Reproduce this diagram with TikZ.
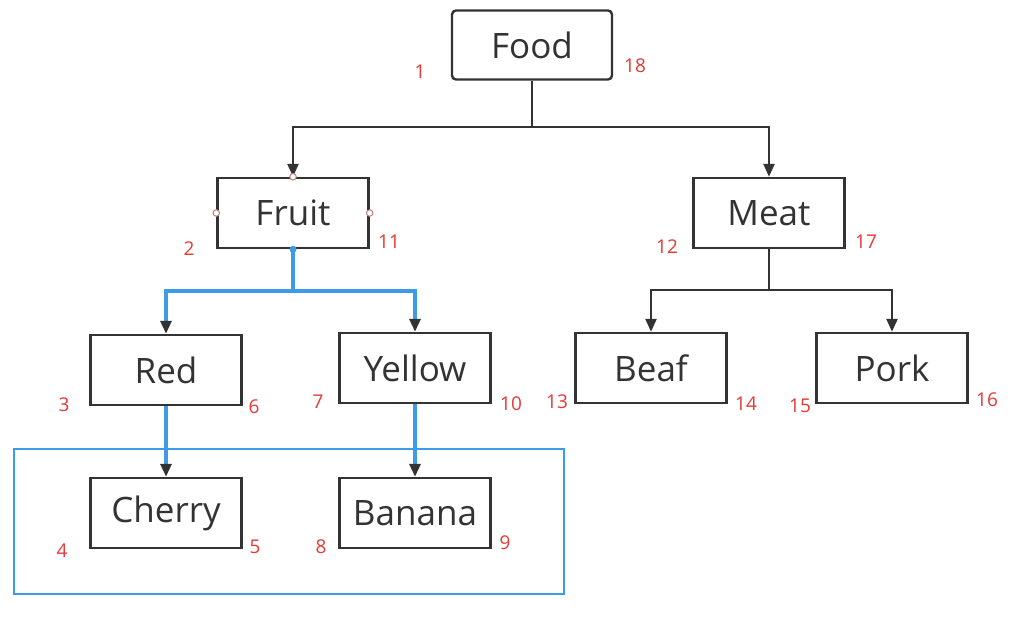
\documentclass[tikz,border=0pt]{standalone}
\usepackage{fontspec}
\setmainfont{Open Sans}
\usetikzlibrary{arrows.meta}
\definecolor{boxc}{HTML}{333333}
\definecolor{numc}{HTML}{E53935}
\definecolor{bluec}{HTML}{3D9BE9}
\definecolor{dotc}{HTML}{C08080}
\begin{document}
\begin{tikzpicture}[x=1pt,y=-1pt,
  box/.style={draw=boxc,line width=2.4pt,minimum width=151pt,minimum height=70pt,inner sep=0pt,font=\fontsize{35}{42}\selectfont,text=boxc},
  num/.style={text=numc,font=\fontsize{19}{22}\selectfont,inner sep=0pt},
  conn/.style={draw=boxc,line width=2.4pt,-{Triangle[length=13pt,width=11pt]}},
  bconn/.style={draw=bluec,line width=3.2pt,-{Triangle[length=13pt,width=11pt,color=boxc]}},
  dot/.style={circle,draw=dotc,fill=white,line width=1pt,minimum size=6.5pt,inner sep=0pt}]
\useasboundingbox (0,0) rectangle (1022,620);
\draw[bluec,line width=2.8pt] (14,449) rectangle (564,594);
\node[box,rounded corners=4pt,minimum width=160pt,minimum height=69pt] (food) at (532,45) {Food};
\node[box] (fruit) at (293,213) {Fruit};
\node[box] (meat) at (769,213) {Meat};
\node[box] (red) at (166,370) {Red};
\node[box] (yellow) at (415,368) {Yellow};
\node[box] (beaf) at (651,368) {Beaf};
\node[box] (pork) at (892,368) {Pork};
\node[box] (cherry) at (166,513) {Cherry};
\node[box] (banana) at (415,513) {Banana};
% connectors
\coordinate (j1) at (532,127);
\coordinate (j2) at (293,291);
\coordinate (j3) at (769,290);
\draw[boxc,line width=2.4pt] (food.south) -- (j1);
\draw[conn] (j1) -| (fruit.north);
\draw[conn] (j1) -| (meat.north);
\draw[boxc,line width=2.4pt] (meat.south) -- (j3);
\draw[conn] (j3) -| (beaf.north);
\draw[conn] (j3) -| (pork.north);
\draw[bluec,line width=3.2pt] (fruit.south) -- (j2);
\draw[bconn] (j2) -| (red.north);
\draw[bconn] (j2) -| (yellow.north);
\draw[bconn] (red.south) -- (cherry.north);
\draw[bconn] (yellow.south) -- (banana.north);
% handles on Fruit
\node[dot] (d1) at (fruit.north) {};
\node[dot] (d2) at (fruit.west) {};
\node[dot] (d3) at (fruit.east) {};
\node[circle,fill=bluec,minimum size=7pt,inner sep=0pt] (d4) at (fruit.south) {};
% numbers
\node[num] (n1) at (420,72) {1};
\node[num] (n18) at (635,66) {18};
\node[num] (n2) at (189,249) {2};
\node[num] (n11) at (389,242) {11};
\node[num] (n12) at (667,247) {12};
\node[num] (n17) at (866,242) {17};
\node[num] (n3) at (64,405) {3};
\node[num] (n6) at (254,407) {6};
\node[num] (n7) at (318,402) {7};
\node[num] (n10) at (511,404) {10};
\node[num] (n13) at (557,402) {13};
\node[num] (n14) at (746,404) {14};
\node[num] (n15) at (800,406) {15};
\node[num] (n16) at (987,400) {16};
\node[num] (n4) at (62,551) {4};
\node[num] (n5) at (255,547) {5};
\node[num] (n8) at (321,547) {8};
\node[num] (n9) at (505,543) {9};
\end{tikzpicture}
\end{document}
